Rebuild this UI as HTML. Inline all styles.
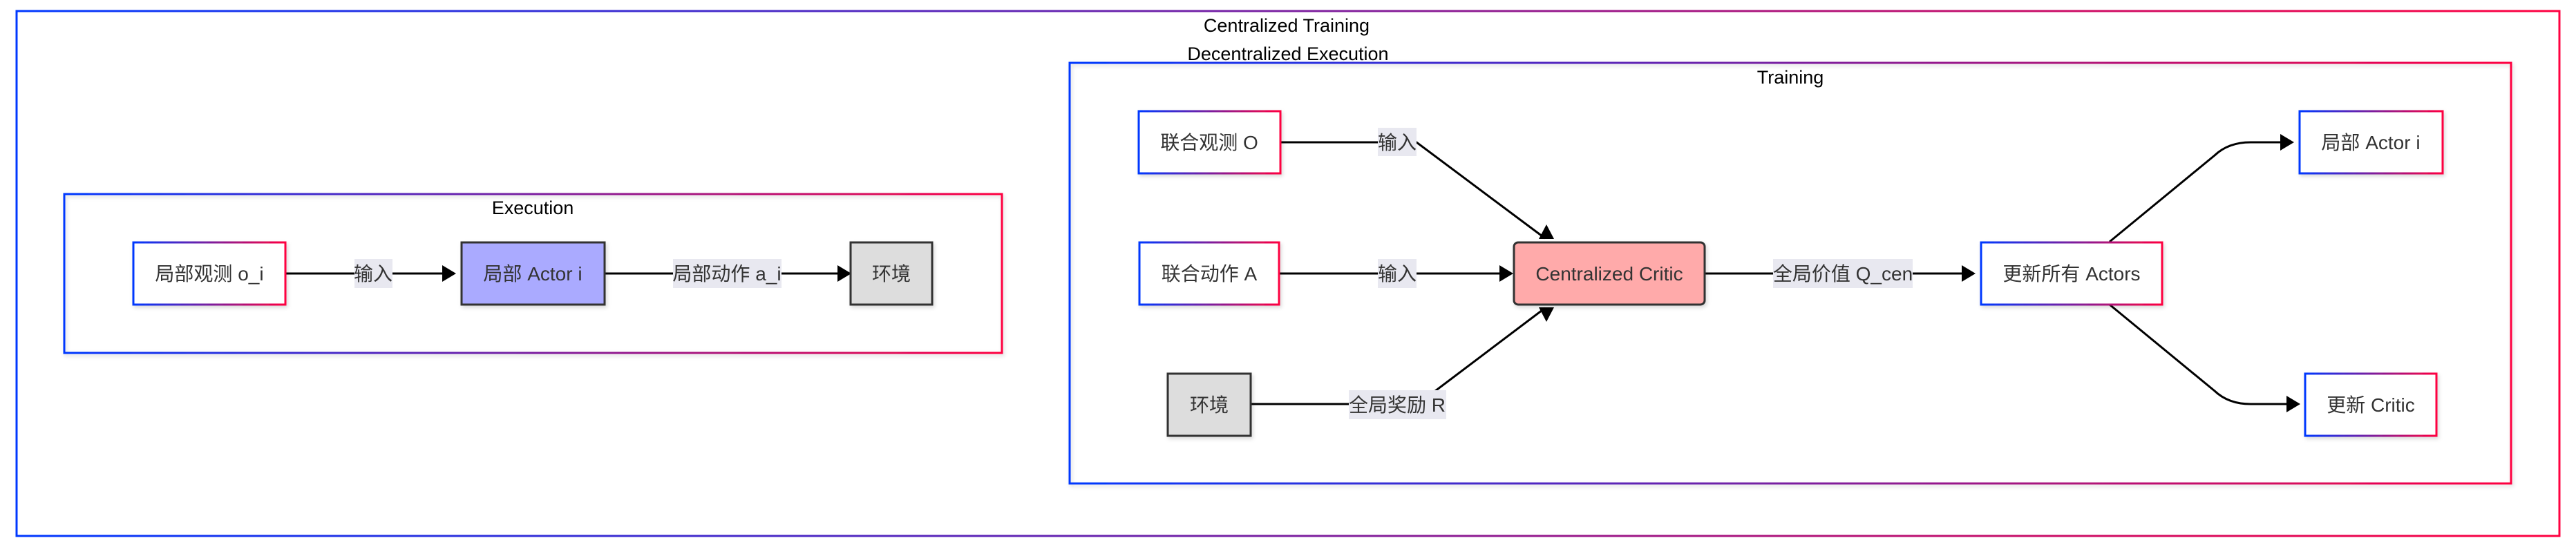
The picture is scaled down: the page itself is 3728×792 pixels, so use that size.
<!DOCTYPE html>
<html><head><meta charset="utf-8"><style>
html,body{margin:0;padding:0;background:#fff;}
svg{display:block;}
text{font-family:"Liberation Sans","Noto Sans CJK SC",sans-serif;}
</style></head><body>
<svg width="3728" height="792" viewBox="0 0 3728 792" xmlns="http://www.w3.org/2000/svg">
<defs>
<linearGradient id="g" x1="0" y1="0" x2="1" y2="0" gradientUnits="objectBoundingBox">
<stop offset="0" stop-color="#0038ff"/><stop offset="0.5" stop-color="#7a1fa0"/><stop offset="1" stop-color="#ff0040"/>
</linearGradient>
<filter id="sh" x="-10%" y="-10%" width="130%" height="140%"><feDropShadow dx="2" dy="3" stdDeviation="3" flood-color="#000" flood-opacity="0.15"/></filter>
</defs>
<rect x="24" y="16" width="3680" height="760" fill="none" stroke="url(#g)" stroke-width="3"/>
<text x="1862" y="46" font-size="27" text-anchor="middle" fill="#000">Centralized Training</text>
<text x="1864" y="87" font-size="27" text-anchor="middle" fill="#000">Decentralized Execution</text>
<rect x="93" y="281" width="1357" height="230" fill="none" stroke="url(#g)" stroke-width="3" filter="url(#sh)"/>
<text x="771" y="310" font-size="27" text-anchor="middle" fill="#000">Execution</text>
<rect x="1548" y="91" width="2086" height="609" fill="none" stroke="url(#g)" stroke-width="3" filter="url(#sh)"/>
<text x="2591" y="121" font-size="27" text-anchor="middle" fill="#000">Training</text>

<g stroke="#000" stroke-width="3" fill="none">
<line x1="413" y1="396" x2="645" y2="396"/>
<line x1="875" y1="396" x2="1212" y2="396"/>
<polyline points="1853,206 2050,206 2236,345"/>
<line x1="1851" y1="396" x2="2172" y2="396"/>
<polyline points="1810,585 2052,585 2236,446" />
<line x1="2467" y1="396" x2="2848" y2="396"/>
<path d="M3053,350 L3205,225 Q3225,206 3257,206 L3305,206"/>
<path d="M3053,441 L3205,566 Q3225,585 3257,585 L3312,585"/>
</g>
<g fill="#000">
<polygon points="640,384 640,408 660,396"/>
<polygon points="1212,384 1212,408 1232,396"/>
<polygon points="2170,384 2170,408 2190,396"/>
<polygon points="2227,346 2249,346 2238,325"/>
<polygon points="2227,445 2249,445 2238,466"/>
<polygon points="2839,384 2839,408 2859,396"/>
<polygon points="3300,194 3300,218 3320,206"/>
<polygon points="3309,573 3309,597 3329,585"/>
</g>

<g fill="#e8e8f0">
<rect x="513" y="375" width="55" height="42"/>
<rect x="974" y="375" width="157" height="42"/>
<rect x="1994" y="185" width="56" height="41"/>
<rect x="1994" y="375" width="56" height="42"/>
<rect x="2566" y="375" width="202" height="42"/>
<rect x="1952" y="565" width="141" height="42"/>
</g>
<g font-size="28" fill="#333" text-anchor="middle">
<text x="540" y="406">输入</text>
<text x="1052" y="406">局部动作 a_i</text>
<text x="2022" y="216">输入</text>
<text x="2022" y="406">输入</text>
<text x="2667" y="406">全局价值 Q_cen</text>
<text x="2022" y="596">全局奖励 R</text>
</g>

<g stroke-width="3" filter="url(#sh)">
<rect x="193" y="351" width="220" height="90" fill="#fff" stroke="url(#g)"/>
<rect x="668" y="351" width="207" height="90" fill="#aaaaff" stroke="#333"/>
<rect x="1231" y="351" width="118" height="90" fill="#dddddd" stroke="#333"/>
<rect x="1648" y="161" width="205" height="90" fill="#fff" stroke="url(#g)"/>
<rect x="1649" y="351" width="202" height="90" fill="#fff" stroke="url(#g)"/>
<rect x="1690" y="541" width="120" height="90" fill="#dddddd" stroke="#333"/>
<rect x="2191" y="351" width="276" height="90" rx="6" fill="#ffaaaa" stroke="#333"/>
<rect x="2867" y="351" width="262" height="90" fill="#fff" stroke="url(#g)"/>
<rect x="3328" y="161" width="207" height="90" fill="#fff" stroke="url(#g)"/>
<rect x="3336" y="541" width="190" height="90" fill="#fff" stroke="url(#g)"/>
</g>
<g font-size="28" fill="#333" text-anchor="middle">
<text x="303" y="406">局部观测 o_i</text>
<text x="771" y="406">局部 Actor i</text>
<text x="1290" y="406">环境</text>
<text x="1750" y="216">联合观测 O</text>
<text x="1750" y="406">联合动作 A</text>
<text x="1750" y="596">环境</text>
<text x="2329" y="406">Centralized Critic</text>
<text x="2998" y="406">更新所有 Actors</text>
<text x="3431" y="216">局部 Actor i</text>
<text x="3431" y="596">更新 Critic</text>
</g>
</svg>
</body></html>
